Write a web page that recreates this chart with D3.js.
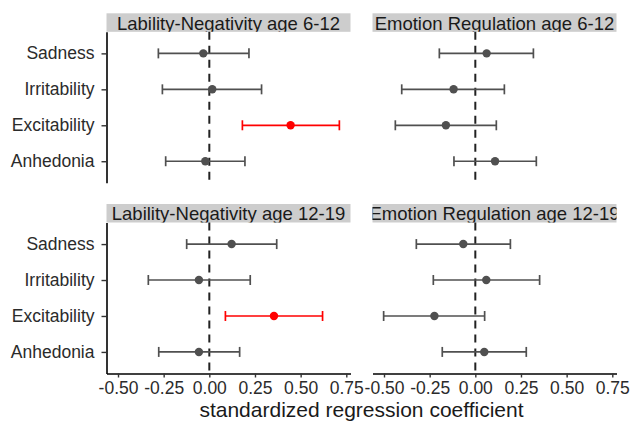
<!DOCTYPE html>
<html>
<head>
<meta charset="utf-8">
<script src="https://cdn.jsdelivr.net/npm/d3@7"></script>
<style>
  html, body { margin: 0; padding: 0; background: #ffffff; }
  svg { display: block; font-family: "Liberation Sans", Arial, Helvetica, sans-serif; }
</style>
</head>
<body>
<svg id="chart" width="632" height="431"></svg>
<script>
// ---- data ----
const categories = ["Sadness", "Irritability", "Excitability", "Anhedonia"];
const panels = [
  "Lability-Negativity age 6-12",
  "Emotion Regulation age 6-12",
  "Lability-Negativity age 12-19",
  "Emotion Regulation age 12-19"
];
const estimates = [
  [-0.033, 0.016, 0.445, -0.022],
  [0.062, -0.119, -0.161, 0.108],
  [0.122, -0.057, 0.354, -0.057],
  [-0.066, 0.060, -0.224, 0.049]
];
const lowerCI = [
  [-0.279, -0.257, 0.181, -0.239],
  [-0.197, -0.403, -0.438, -0.117],
  [-0.124, -0.334, 0.088, -0.277],
  [-0.323, -0.230, -0.502, -0.181]
];
const upperCI = [
  [0.217, 0.286, 0.712, 0.195],
  [0.318, 0.159, 0.115, 0.334],
  [0.369, 0.224, 0.620, 0.166],
  [0.192, 0.352, 0.051, 0.279]
];
const significant = [
  [false, false, true, false],
  [false, false, false, false],
  [false, false, true, false],
  [false, false, false, false]
];
const xTicks = [-0.50, -0.25, 0.00, 0.25, 0.50, 0.75];
const xTitle = "standardized regression coefficient";

// ---- layout ----
const svg = d3.select("#chart");
const xDomain = [-0.563, 0.773];
const colX = [106.5, 372.5];
const panelW = 244;
const rowY = [13.3, 204];
const stripH = 18.5;
const panelH = 151;
const smallFont = 17.5;
const stripFont = 18.5;
const greyCol = "#505050";
const redCol = "#ff0000";
const textCol = "#2b2b2b";

const defs = svg.append("defs");

panels.forEach((title, i) => {
  const col = i % 2, row = Math.floor(i / 2);
  const left = colX[col], stripTop = rowY[row], top = stripTop + stripH;
  const x = d3.scaleLinear().domain(xDomain).range([left, left + panelW]);
  const y = d3.scalePoint().domain(categories).range([top, top + panelH]).padding(0.6);
  const g = svg.append("g");

  // strip
  defs.append("clipPath").attr("id", "clip" + i)
    .append("rect").attr("x", left).attr("y", stripTop).attr("width", panelW).attr("height", stripH);
  g.append("rect").attr("x", left).attr("y", stripTop).attr("width", panelW).attr("height", stripH)
    .attr("fill", "#cdcdcd");
  g.append("text").attr("clip-path", "url(#clip" + i + ")")
    .attr("x", left + panelW / 2).attr("y", stripTop + stripH - 2.2)
    .attr("text-anchor", "middle").attr("font-size", stripFont).attr("fill", "#1a1a1a")
    .text(title);

  // zero reference line
  g.append("line").attr("x1", x(0)).attr("x2", x(0)).attr("y1", top).attr("y2", top + panelH)
    .attr("stroke", "#222").attr("stroke-width", 2).attr("stroke-dasharray", "8,6");

  // error bars and points
  categories.forEach((c, j) => {
    const col2 = significant[i][j] ? redCol : greyCol;
    const yy = y(c);
    g.append("line").attr("x1", x(lowerCI[i][j])).attr("x2", x(upperCI[i][j]))
      .attr("y1", yy).attr("y2", yy).attr("stroke", col2).attr("stroke-width", 1.7);
    [lowerCI[i][j], upperCI[i][j]].forEach(v => {
      g.append("line").attr("x1", x(v)).attr("x2", x(v))
        .attr("y1", yy - 5).attr("y2", yy + 5).attr("stroke", col2).attr("stroke-width", 1.7);
    });
    g.append("circle").attr("cx", x(estimates[i][j])).attr("cy", yy).attr("r", 4.2)
      .attr("fill", col2);
  });

  // left axis (left column only)
  if (col === 0) {
    const ay = g.append("g").attr("transform", `translate(${left},0)`)
      .call(d3.axisLeft(y).tickSize(5).tickSizeOuter(0).tickPadding(7));
    ay.select(".domain").attr("stroke", "#000").attr("stroke-width", 1.6);
    ay.selectAll(".tick line").attr("stroke", "#333").attr("stroke-width", 1.4);
    ay.selectAll(".tick text").attr("font-size", smallFont).attr("fill", textCol)
      .attr("font-family", "Liberation Sans, Arial, sans-serif");
  }
  // bottom axis (bottom row only)
  if (row === 1) {
    const ax = g.append("g").attr("transform", `translate(0,${top + panelH})`)
      .call(d3.axisBottom(x).tickValues(xTicks).tickFormat(d => d.toFixed(2))
        .tickSize(4).tickSizeOuter(0).tickPadding(4));
    ax.select(".domain").attr("stroke", "#000").attr("stroke-width", 1.6);
    ax.selectAll(".tick line").attr("stroke", "#333").attr("stroke-width", 1.4);
    ax.selectAll(".tick text").attr("font-size", smallFont).attr("fill", textCol)
      .attr("font-family", "Liberation Sans, Arial, sans-serif");
  }
});

// x axis title
svg.append("text").attr("x", (colX[0] + colX[1] + panelW) / 2).attr("y", 417)
  .attr("text-anchor", "middle").attr("font-size", 21).attr("fill", "#1a1a1a")
  .text(xTitle);
</script>
</body>
</html>
